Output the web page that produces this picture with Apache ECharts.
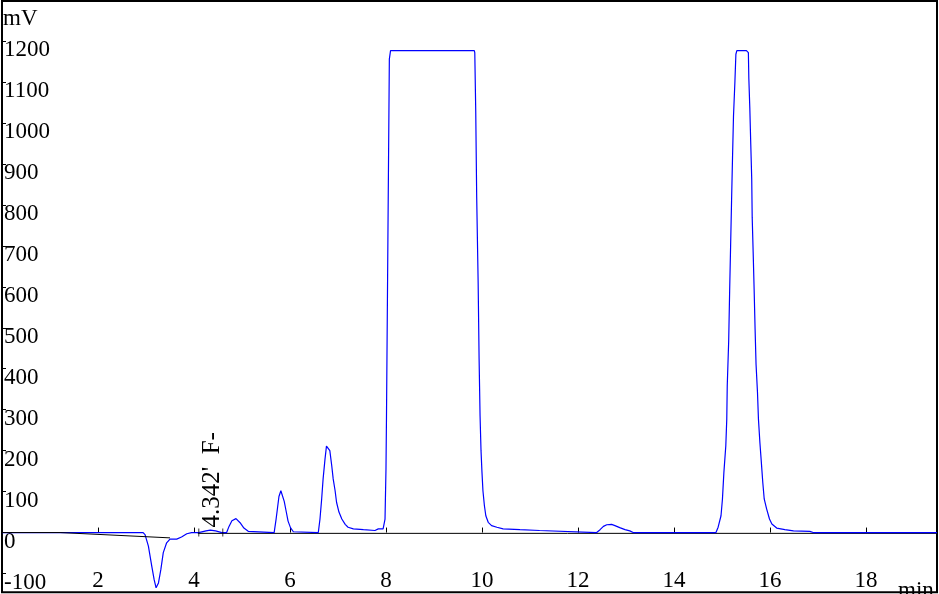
<!DOCTYPE html>
<html><head><meta charset="utf-8">
<script src="https://cdn.jsdelivr.net/npm/echarts@6/dist/echarts.min.js"></script>
<style>html,body{margin:0;padding:0;background:#fff}#c{width:939px;height:594px}</style>
</head><body><div id="c"></div>
<script>
// chromatogram trace (time in min, signal in mV)
const timeMin = [
  0, 2.94, 2.98, 3.05, 3.12, 3.17, 3.21, 3.26, 3.31, 3.36, 3.43, 3.50, 3.64, 3.74, 3.85, 3.95,
  4.10, 4.25, 4.34, 4.45, 4.58, 4.68, 4.73, 4.79, 4.875, 4.96, 5.04, 5.13, 5.17,
  5.67, 5.71, 5.74, 5.77, 5.81, 5.84, 5.88, 5.92, 5.96, 6.01, 6.07, 6.09,
  6.59, 6.625, 6.66, 6.69, 6.73, 6.76, 6.80, 6.83, 6.87, 6.90, 6.94, 6.97, 7.02, 7.08, 7.15, 7.21, 7.32, 7.53, 7.77, 7.84, 7.94,
  7.98, 8.00, 8.01, 8.04, 8.07, 8.095, 9.84, 9.85, 9.87, 9.89, 9.92, 9.94, 9.96, 9.98, 10.00, 10.02, 10.05, 10.08, 10.13, 10.20, 10.31, 10.44, 10.79, 11.20, 11.23,
  12.39, 12.46, 12.53, 12.60, 12.70, 12.77, 12.87, 12.98, 13.08, 13.15,
  14.875, 14.92, 14.98, 15.01, 15.04, 15.08, 15.10, 15.11, 15.14, 15.16, 15.18, 15.20, 15.22, 15.24, 15.27, 15.29, 15.31,
  15.51, 15.55, 15.56, 15.58, 15.60, 15.62, 15.63, 15.65, 15.67, 15.69, 15.71, 15.74, 15.76, 15.79, 15.82, 15.85, 15.88, 15.93, 15.99, 16.04, 16.14, 16.31, 16.49, 16.83, 16.90,
  19.48
];
const signalMv = [
  0, 0, -5, -33, -82, -115, -135, -123, -90, -49, -25, -16, -16, -11, -3, 0,
  0, 4, 6, 4, 0, 0, 15, 29, 34, 24, 11, 3, 0,
  0, 32, 60, 88, 102, 98, 76, 52, 28, 12, 2, 0,
  0, 33, 82, 131, 180, 211, 214, 200, 163, 131, 102, 74, 50, 33, 20, 13, 9, 7, 5, 9, 9,
  33, 155, 277, 715, 1156, 1177, 1177, 1172, 1029, 818, 611, 424, 285, 200, 147, 102, 66, 41, 25, 17, 13, 9, 7, 5, 2,
  0, 7, 15, 19, 20, 17, 12, 7, 4, 0,
  0, 13, 41, 82, 147, 212, 277, 359, 468, 590, 700, 810, 916, 1016, 1102, 1168, 1177,
  1177, 1172, 1108, 1037, 948, 863, 769, 684, 594, 497, 411, 342, 277, 220, 172, 123, 82, 58, 33, 21, 11, 7, 4, 3, 0,
  0
];
// integration baseline (black)
const baseATime = [0, 1.21, 3.50];
const baseAMv = [0, 0, -13];
const baseBTime = [4.08, 19.48];
const baseBMv = [-2, -2];
// peak start/end markers
const markerTime = [4.10, 4.60];
const markerMv = [0, 0];
// peak annotation
const peakLabelTime = 4.342;
const peakLabelText = "4.342'  F-";
// axis ticks
const xTickValues = [2, 4, 6, 8, 10, 12, 14, 16, 18];
const yTickValues = [-100, 0, 100, 200, 300, 400, 500, 600, 700, 800, 900, 1000, 1100, 1200];

const FONT = "'Liberation Serif', 'Times New Roman', serif";
const zip = (a, b) => a.map((v, i) => [v, b[i]]);

const chart = echarts.init(document.getElementById('c'), null, {renderer: 'canvas'});
chart.setOption({
  animation: false,
  backgroundColor: '#fff',
  grid: {left: 2, right: 2, top: 1, bottom: 1, show: true, borderColor: '#000', borderWidth: 2, backgroundColor: 'transparent'},
  xAxis: {
    type: 'value', min: 0, max: 19.48,
    axisLine: {show: false},
    splitLine: {show: false},
    axisTick: {show: true, inside: true, length: 5, lineStyle: {color: '#000', width: 1}, customValues: xTickValues},
    axisLabel: {inside: true, margin: 2, color: '#000', fontFamily: FONT, fontSize: 23, lineHeight: 18,
      verticalAlign: 'bottom', customValues: xTickValues, formatter: v => String(v)}
  },
  yAxis: {
    type: 'value', min: -146, max: 1298,
    axisLine: {show: false},
    splitLine: {show: false},
    axisTick: {show: true, inside: true, length: 4, lineStyle: {color: '#000', width: 1}, customValues: yTickValues},
    axisLabel: {inside: true, margin: 2, color: '#000', fontFamily: FONT, fontSize: 23, lineHeight: 18,
      align: 'left', verticalAlign: 'top', customValues: yTickValues, formatter: v => String(v)}
  },
  series: [
    {type: 'line', data: zip(baseBTime, baseBMv), showSymbol: false, z: 1,
      lineStyle: {color: '#000', width: 1}},
    {type: 'line', data: zip(timeMin, signalMv), showSymbol: false, z: 2,
      lineStyle: {color: '#0000ff', width: 1.2}},
    {type: 'line', data: zip(baseATime, baseAMv), showSymbol: false, z: 3,
      lineStyle: {color: '#000', width: 1}},
    {type: 'scatter', data: zip(markerTime, markerMv), symbol: 'rect', symbolSize: [1, 8], z: 4,
      itemStyle: {color: '#000'}}
  ]
});

const p = chart.convertToPixel({gridIndex: 0}, [peakLabelTime, 0]);
chart.setOption({
  graphic: [
    {type: 'text', left: 3, top: 7, style: {text: 'mV', font: '23px ' + FONT, fill: '#000'}},
    {type: 'text', x: 898, y: 591, style: {text: 'min', font: '23px ' + FONT, fill: '#000', textAlign: 'left', textVerticalAlign: 'middle'}},
    {type: 'text', x: p[0] + 2.5, y: p[1] - 5, rotation: Math.PI / 2,
      style: {text: peakLabelText, font: '25px ' + FONT, fill: '#000', textAlign: 'left', textVerticalAlign: 'middle'}}
  ]
});
</script>
</body></html>
